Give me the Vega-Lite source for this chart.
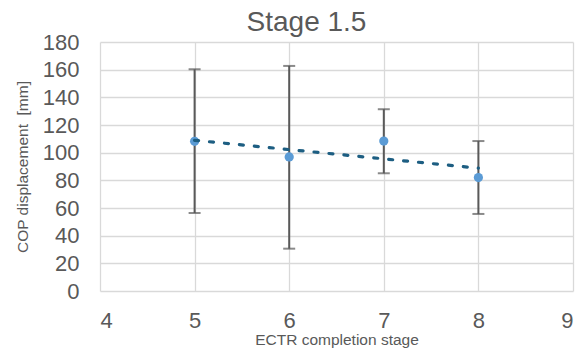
{
  "$schema": "https://vega.github.io/schema/vega-lite/v6.json",
  "width": 473,
  "height": 249,
  "autosize": "none",
  "padding": {"left": 100, "top": 42, "right": 8, "bottom": 68},
  "background": "white",
  "config": {
    "view": {"stroke": null},
    "font": "Liberation Sans",
    "axis": {
      "labelFont": "Liberation Sans",
      "titleFont": "Liberation Sans",
      "labelColor": "#595959",
      "titleColor": "#595959",
      "gridColor": "#d9d9d9",
      "gridWidth": 1.3,
      "domain": false,
      "ticks": false,
      "labelOverlap": false,
      "labelFontSize": 22,
      "titleFontSize": 15.5,
      "titleFontWeight": "normal"
    }
  },
  "title": {
    "text": "Stage 1.5",
    "font": "Liberation Sans",
    "fontSize": 28,
    "fontWeight": "normal",
    "color": "#595959",
    "dx": -30,
    "offset": -6
  },
  "data": {
    "values": [
      {"stage": 5, "mean": 108.2, "low": 56.4, "high": 160.3},
      {"stage": 6, "mean": 96.9, "low": 30.6, "high": 162.7},
      {"stage": 7, "mean": 108.4, "low": 85.1, "high": 131.4},
      {"stage": 8, "mean": 82.0, "low": 55.7, "high": 108.4}
    ]
  },
  "encoding": {
    "x": {
      "field": "stage",
      "type": "quantitative",
      "scale": {"domain": [4, 9], "nice": false, "zero": false},
      "axis": {"values": [4, 5, 6, 7, 8, 9], "title": "ECTR completion stage", "labelPadding": 19, "titlePadding": 1}
    }
  },
  "layer": [
    {
      "mark": {"type": "rule", "color": "#595959", "strokeWidth": 2},
      "encoding": {
        "y": {
          "field": "low",
          "type": "quantitative",
          "scale": {"domain": [0, 180], "nice": false},
          "axis": {"values": [0, 20, 40, 60, 80, 100, 120, 140, 160, 180], "title": "COP displacement\u00a0 [mm]", "labelPadding": 21, "titlePadding": 12}
        },
        "y2": {"field": "high"}
      }
    },
    {
      "mark": {"type": "tick", "orient": "horizontal", "color": "#595959", "size": 12, "thickness": 2},
      "encoding": {"y": {"field": "low", "type": "quantitative", "scale": {"domain": [0, 180], "nice": false},
          "axis": {"values": [0, 20, 40, 60, 80, 100, 120, 140, 160, 180], "title": "COP displacement\u00a0 [mm]", "labelPadding": 21, "titlePadding": 12}}}
    },
    {
      "mark": {"type": "tick", "orient": "horizontal", "color": "#595959", "size": 12, "thickness": 2},
      "encoding": {"y": {"field": "high", "type": "quantitative", "scale": {"domain": [0, 180], "nice": false},
          "axis": {"values": [0, 20, 40, 60, 80, 100, 120, 140, 160, 180], "title": "COP displacement\u00a0 [mm]", "labelPadding": 21, "titlePadding": 12}}}
    },
    {
      "mark": {"type": "circle", "color": "#5b9bd5", "size": 85, "opacity": 1},
      "encoding": {"y": {"field": "mean", "type": "quantitative", "scale": {"domain": [0, 180], "nice": false},
          "axis": {"values": [0, 20, 40, 60, 80, 100, 120, 140, 160, 180], "title": "COP displacement\u00a0 [mm]", "labelPadding": 21, "titlePadding": 12}}}
    },
    {
      "transform": [{"regression": "mean", "on": "stage"}],
      "mark": {"type": "line", "color": "#1d5e82", "strokeWidth": 3.2, "strokeDash": [4, 11], "strokeCap": "round"},
      "encoding": {"y": {"field": "mean", "type": "quantitative", "scale": {"domain": [0, 180], "nice": false},
          "axis": {"values": [0, 20, 40, 60, 80, 100, 120, 140, 160, 180], "title": "COP displacement\u00a0 [mm]", "labelPadding": 21, "titlePadding": 12}}}
    }
  ]
}
